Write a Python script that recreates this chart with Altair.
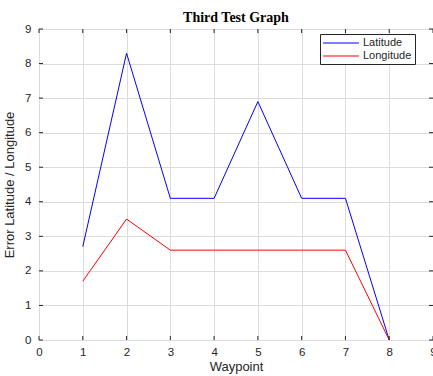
import altair as alt
import pandas as pd

waypoints = [1, 2, 3, 4, 5, 6, 7, 8]
latitude = [2.7, 8.3, 4.1, 4.1, 6.9, 4.1, 4.1, 0.0]
longitude = [1.7, 3.5, 2.6, 2.6, 2.6, 2.6, 2.6, 0.0]
x_ticks = [0, 1, 2, 3, 4, 5, 6, 7, 8, 9]
y_ticks = [0, 1, 2, 3, 4, 5, 6, 7, 8, 9]

rows = []
for w, la, lo in zip(waypoints, latitude, longitude):
    rows.append({"Waypoint": w, "value": la, "series": "Latitude"})
    rows.append({"Waypoint": w, "value": lo, "series": "Longitude"})
df = pd.DataFrame(rows)

W, H = 394, 311
xs = alt.Scale(domain=[0, 9], nice=False)
ys = alt.Scale(domain=[0, 9], nice=False)
cs = alt.Scale(domain=["Latitude", "Longitude"], range=["#0000ff", "#ff0000"])

x_axis = alt.Axis(
    values=x_ticks, title="Waypoint", grid=True, gridColor="#dcdcdc",
    tickSize=0, labelPadding=6, domain=False, labelFontSize=11.5,
    labelColor="#262626", titleFontSize=13, titleFontWeight="normal",
    titleColor="#262626", titlePadding=3, labelFont="Liberation Sans",
    titleFont="Liberation Sans", labelFlush=False, labelOverlap=False)
y_axis = alt.Axis(
    values=y_ticks, title="Error Latitude / Longitude", grid=True,
    gridColor="#dcdcdc", tickSize=0, labelPadding=8, domain=False,
    labelFontSize=11.5, labelColor="#262626", titleFontSize=13,
    titleFontWeight="normal", titleColor="#262626", titlePadding=8,
    labelFont="Liberation Sans", titleFont="Liberation Sans",
    labelOverlap=False, labelFlush=False)

legend = alt.Legend(title=None, orient="none", legendX=281, legendY=5,
                    symbolType="M-1,-0.09L5,-0.09L5,0.09L-1,0.09Z",
                    symbolSize=144, symbolStrokeWidth=0, symbolOpacity=1,
                    strokeColor="#262626", fillColor="white", padding=3,
                    rowPadding=2, labelFontSize=11,
                    labelFont="Liberation Sans", labelColor="#262626",
                    cornerRadius=0, labelOffset=28, symbolLimit=0)

pts = alt.Chart(df).mark_point(filled=True, opacity=0).encode(
    x=alt.X("Waypoint:Q", scale=xs, axis=x_axis),
    y=alt.Y("value:Q", scale=ys, axis=y_axis),
    color=alt.Color("series:N", scale=cs, legend=legend),
)

lines = alt.Chart(df).mark_line(strokeWidth=1, clip=True).encode(
    x=alt.X("Waypoint:Q", scale=xs, axis=x_axis),
    y=alt.Y("value:Q", scale=ys, axis=y_axis),
    color=alt.Color("series:N", scale=cs, legend=None),
)

xt = pd.DataFrame({"t": x_ticks})
yt = pd.DataFrame({"t": y_ticks})
tick_col = "#262626"
xb = alt.Chart(xt).mark_rule(color=tick_col, strokeWidth=1).encode(
    x=alt.X("t:Q", scale=xs, axis=x_axis), y=alt.value(H), y2=alt.value(H - 4))
xtp = alt.Chart(xt).mark_rule(color=tick_col, strokeWidth=1).encode(
    x=alt.X("t:Q", scale=xs, axis=x_axis), y=alt.value(0), y2=alt.value(4))
yl = alt.Chart(yt).mark_rule(color=tick_col, strokeWidth=1).encode(
    y=alt.Y("t:Q", scale=ys, axis=y_axis), x=alt.value(0), x2=alt.value(4))
yr = alt.Chart(yt).mark_rule(color=tick_col, strokeWidth=1).encode(
    y=alt.Y("t:Q", scale=ys, axis=y_axis), x=alt.value(W), x2=alt.value(W - 4))

chart = alt.layer(pts, lines, xb, xtp, yl, yr).properties(
    width=W, height=H,
    title=alt.TitleParams("Third Test Graph", font="Liberation Serif",
                          fontSize=14, fontWeight="bold", color="black",
                          offset=1, dy=3, anchor="middle"),
    autosize=alt.AutoSizeParams(type="none"),
    padding={"left": 39, "top": 29, "right": 0, "bottom": 36},
).configure_view(stroke="#262626", strokeWidth=1).configure(background="white")

chart.save("out.html", embed_options={"renderer": "svg", "actions": False})
